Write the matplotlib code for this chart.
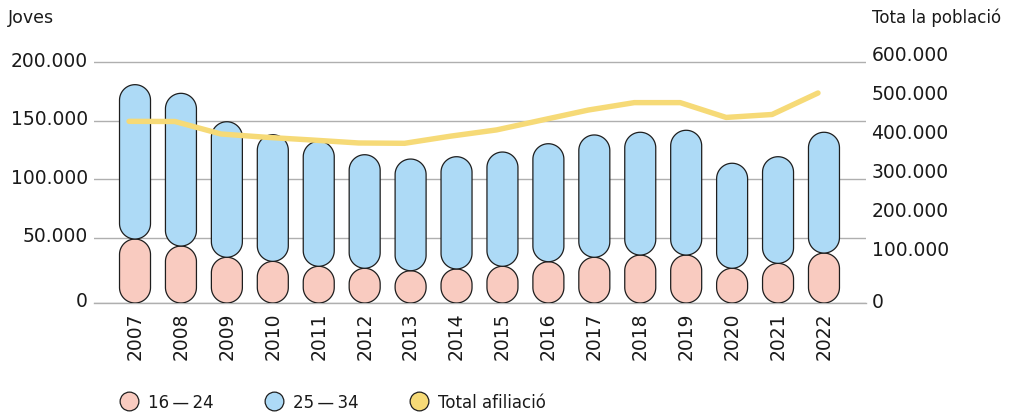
import numpy as np
import matplotlib
matplotlib.use('Agg')
import matplotlib.pyplot as plt
from matplotlib.patches import Polygon
from matplotlib.lines import Line2D
from matplotlib.transforms import ScaledTranslation

plt.rcParams['font.family'] = ['DejaVu Sans']

years = ['2007', '2008', '2009', '2010', '2011', '2012', '2013', '2014',
         '2015', '2016', '2017', '2018', '2019', '2020', '2021', '2022']
joves_16_24 = [48900, 42900, 33300, 29800, 25600, 23900, 21800, 23300,
               25600, 29500, 33300, 35200, 35200, 23900, 28100, 36900]
joves_25_34 = [132000, 130600, 115900, 108300, 106900, 97100, 95500, 96000,
               97700, 100900, 104600, 105000, 106700, 89800, 91200, 103300]
total_afiliacio = [435000, 434600, 402600, 394000, 387000, 379500, 378700, 397000,
                   413000, 438500, 464000, 483000, 483000, 445000, 452600, 507700]

left_ticks = [50000, 100000, 150000, 200000]
right_ticks = [100000, 200000, 300000, 400000, 500000, 600000]

def fmt(v):
    return f'{v:,.0f}'.replace(',', '.')

pink = '#F9CBC0'
blue = '#ADDAF6'
yellow = '#F6DA77'
edge = '#1E1E1E'
grid_c = '#AFAFAF'
text_c = '#1A1A1A'
fs_num = 13.5
fs_txt = 12

fig = plt.figure(figsize=(10.16, 4.14), dpi=100)
ax = fig.add_axes([94 / 1016, 110 / 414, 772 / 1016, 254 / 414])
ax2 = ax.twinx()

x = np.arange(len(years))
ymin, ymax = -5800, 211400
ax.set_xlim(-0.893, len(years) - 1 + 0.915)
ax.set_ylim(ymin, ymax)
ax2.set_ylim(-30800, 620500)

# pixels per data unit, so the pill caps come out as half circles
p0 = ax.transData.transform((0, 0))
px = ax.transData.transform((1, 0))[0] - p0[0]
py = (ax.transData.transform((0, 1000))[1] - p0[1]) / 1000
w = 0.675
rx = w / 2
ry = rx * px / py

def pill(xc, b, t):
    r_y = min(ry, (t - b) / 2)
    th = np.linspace(0, np.pi, 40)
    top = np.column_stack([xc + rx * np.cos(th), t - r_y + r_y * np.sin(th)])
    bot = np.column_stack([xc - rx * np.cos(th), b + r_y - r_y * np.sin(th)])
    return np.vstack([top, bot])

for i in range(len(years)):
    lo = joves_16_24[i]
    hi = lo + joves_25_34[i]
    for b, t, c in [(ymin, lo, pink), (lo, hi, blue)]:
        ax.add_patch(Polygon(pill(x[i], b, t), closed=True, facecolor=c,
                             edgecolor=edge, linewidth=0.9, zorder=3))

ax2.plot(x - 0.13, total_afiliacio, color=yellow, linewidth=3.9,
         solid_capstyle='round', solid_joinstyle='round', zorder=4)

ax.set_yticks([ymin] + left_ticks)
ax.set_yticklabels(['0'] + [fmt(v) for v in left_ticks])
ax2.set_yticks([-30800] + right_ticks)
ax2.set_yticklabels(['0'] + [fmt(v) for v in right_ticks])
ax.set_xticks(x)
ax.set_xticklabels(years, rotation=90)

ax.grid(axis='y', color=grid_c, linewidth=1.0, zorder=0)
ax.axhline(ymin, color=grid_c, linewidth=1.0, clip_on=False, zorder=1)
ax.set_axisbelow(True)
for a in (ax, ax2):
    for s in a.spines.values():
        s.set_visible(False)
ax.tick_params(axis='y', length=0, pad=4.5, labelsize=fs_num, labelcolor=text_c)
ax.tick_params(axis='x', length=0, pad=6, labelsize=fs_num, labelcolor=text_c)
ax2.tick_params(axis='y', length=0, pad=4, labelsize=fs_num, labelcolor=text_c)

up = ScaledTranslation(0, 4 / 100, fig.dpi_scale_trans)
for lab in ax.get_yticklabels() + ax2.get_yticklabels():
    lab.set_transform(lab.get_transform() + up)

fig.text(8 / 1016, 1 - 18 / 414, 'Joves', fontsize=12.5, color=text_c, va='center')
fig.text(872 / 1016, 1 - 18 / 414, 'Tota la població', fontsize=fs_txt, color=text_c, va='center')

handles = [Line2D([], [], marker='o', ls='', markersize=13.5, markerfacecolor=c,
                  markeredgecolor=edge, markeredgewidth=0.9)
           for c in (pink, blue, yellow)]
fig.legend(handles, ['16\u2009—\u200924', '25\u2009—\u200934', 'Total afiliació'],
           loc='center left', bbox_to_anchor=(119 / 1016, 11.3 / 414),
           ncol=3, frameon=False, fontsize=fs_txt, borderpad=0, borderaxespad=0,
           handlelength=1.2, handletextpad=0.55, columnspacing=3.0,
           labelcolor=text_c)

fig.savefig('out.png', dpi=100)
